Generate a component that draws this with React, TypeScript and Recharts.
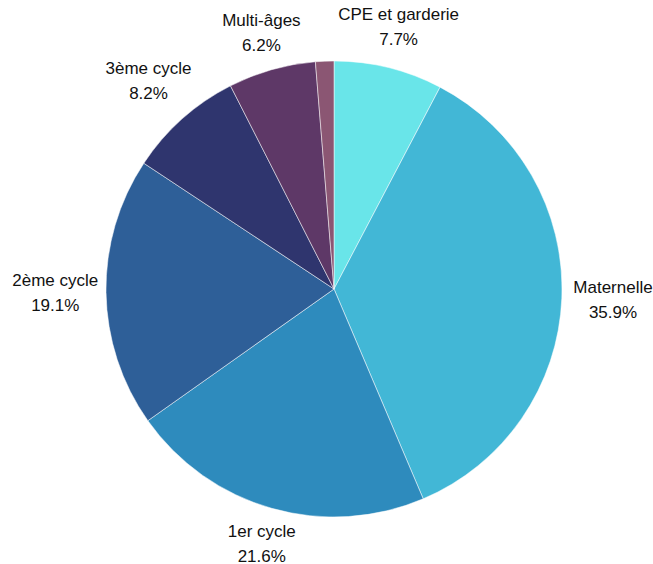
import { PieChart, Pie, Cell } from "recharts";

const categories = [
  "CPE et garderie",
  "Maternelle",
  "1er cycle",
  "2ème cycle",
  "3ème cycle",
  "Multi-âges",
  "",
];
const values = [7.7, 35.9, 21.6, 19.1, 8.2, 6.2, 1.3];
const colors = [
  "#69e5e9",
  "#42b7d6",
  "#2e8bbd",
  "#2e5f98",
  "#2f356e",
  "#5e3867",
  "#8b5673",
];

const data = categories.map((name, i) => ({ name, value: values[i] }));

const CX = 334;
const CY = 289;
const R = 228;
const FONT = 17;

const renderLabel = (props: any) => {
  const { midAngle, index } = props;
  const name = categories[index];
  if (!name) return null;
  const pct = values[index].toFixed(1) + "%";
  const rad = (midAngle * Math.PI) / 180;
  const ux = Math.cos(rad);
  const uy = -Math.sin(rad);
  const halfW = (Math.max(name.length, pct.length) * FONT * 0.5) / 2;
  const halfH = 19;
  const d = R + 8 + Math.abs(ux) * halfW + Math.abs(uy) * halfH;
  const x = CX + ux * d;
  const y = CY + uy * d;
  return (
    <text
      x={x}
      y={y}
      textAnchor="middle"
      fill="#111"
      fontSize={FONT}
      fontFamily="'Liberation Sans', Arial, sans-serif"
    >
      <tspan x={x} y={y - 12.5} dominantBaseline="central">
        {name}
      </tspan>
      <tspan x={x} y={y + 12.5} dominantBaseline="central">
        {pct}
      </tspan>
    </text>
  );
};

const App = () => {
  return (
    <div style={{ position: "absolute", left: 0, top: 0, background: "#fff" }}>
      <PieChart
        width={653}
        height={564}
        margin={{ top: 0, right: 0, bottom: 0, left: 0 }}
      >
        <Pie
          data={data}
          dataKey="value"
          nameKey="name"
          cx={CX}
          cy={CY}
          outerRadius={R}
          startAngle={90}
          endAngle={-270}
          stroke="#ffffff"
          strokeWidth={0.5}
          label={renderLabel}
          labelLine={false}
          isAnimationActive={false}
        >
          {data.map((_, i) => (
            <Cell key={i} fill={colors[i]} />
          ))}
        </Pie>
      </PieChart>
    </div>
  );
};

export default App;
